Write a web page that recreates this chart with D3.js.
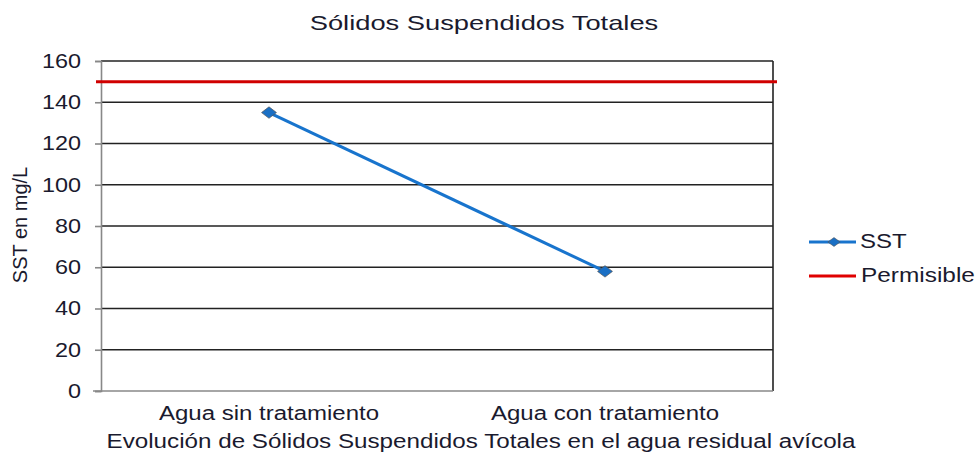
<!DOCTYPE html>
<html>
<head>
<meta charset="utf-8">
<script src="https://cdn.jsdelivr.net/npm/d3@7"></script>
<style>
  body { margin: 0; background: #fff; }
  svg { font-family: Arial, "Liberation Sans", sans-serif; }
</style>
</head>
<body>
<svg width="979" height="453"></svg>
<script>
const categories = ['Agua sin tratamiento', 'Agua con tratamiento'];
const sstValues = [135, 58];
const permisible = 150;
const yTicks = [0, 20, 40, 60, 80, 100, 120, 140, 160];

const margin = { left: 101, right: 206, top: 61, bottom: 62 };
const w = 979;
const h = 453;
const textColor = '#1a1a2e';

const svg = d3.select('svg');

// the original picture is stretched sideways, so widen the text to match
function stretch(sel, factor) {
  sel.each(function () {
    const len = this.getComputedTextLength();
    d3.select(this)
      .attr('textLength', len * factor)
      .attr('lengthAdjust', 'spacingAndGlyphs');
  });
}

const xScale = d3.scaleBand()
  .domain(categories)
  .range([margin.left, w - margin.right]);

const yScale = d3.scaleLinear()
  .domain([0, 160])
  .range([h - margin.bottom, margin.top]);

// grid lines
svg.append('g')
  .selectAll('line')
  .data(yTicks.slice(1))
  .enter()
  .append('line')
  .attr('x1', margin.left)
  .attr('x2', w - margin.right)
  .attr('y1', d => yScale(d))
  .attr('y2', d => yScale(d))
  .attr('stroke', '#222')
  .attr('stroke-width', 1.6);

// right border
svg.append('line')
  .attr('x1', w - margin.right)
  .attr('x2', w - margin.right)
  .attr('y1', margin.top)
  .attr('y2', h - margin.bottom)
  .attr('stroke', '#222')
  .attr('stroke-width', 1.6);

// y axis
const yAxis = d3.axisLeft(yScale)
  .tickValues(yTicks)
  .tickSize(6)
  .tickPadding(14);
const yG = svg.append('g')
  .attr('transform', `translate(${margin.left}, 0)`)
  .call(yAxis);
yG.select('.domain').attr('stroke', '#888').attr('stroke-width', 1.6);
yG.selectAll('.tick line').attr('stroke', '#888').attr('stroke-width', 1.6);
yG.selectAll('.tick text')
  .attr('fill', textColor)
  .style('font-size', '20px')
  .call(stretch, 1.17);

// x axis
const xAxis = d3.axisBottom(xScale).tickSize(0).tickPadding(15);
const xG = svg.append('g')
  .attr('transform', `translate(0, ${h - margin.bottom})`)
  .call(xAxis);
xG.select('.domain').remove();
xG.selectAll('.tick text')
  .attr('fill', textColor)
  .style('font-size', '20px')
  .call(stretch, 1.2);
svg.append('line')
  .attr('x1', margin.left - 8)
  .attr('x2', w - margin.right)
  .attr('y1', yScale(0))
  .attr('y2', yScale(0))
  .attr('stroke', '#888')
  .attr('stroke-width', 1.6);

// permisible line
svg.append('line')
  .attr('x1', margin.left - 5)
  .attr('x2', w - margin.right + 4)
  .attr('y1', yScale(permisible))
  .attr('y2', yScale(permisible))
  .attr('stroke', '#d00000')
  .attr('stroke-width', 3);

// SST line
const cx = (d, i) => xScale(categories[i]) + xScale.bandwidth() / 2;
const line = d3.line()
  .x(cx)
  .y(d => yScale(d));

svg.append('path')
  .datum(sstValues)
  .attr('d', line)
  .attr('fill', 'none')
  .attr('stroke', '#1874cd')
  .attr('stroke-width', 3);

const diamond = d3.symbol().type(d3.symbolDiamond2).size(84);
svg.append('g')
  .selectAll('path')
  .data(sstValues)
  .enter()
  .append('path')
  .attr('d', diamond)
  .attr('transform', (d, i) => `translate(${cx(d, i)}, ${yScale(d)}) scale(1.3, 1)`)
  .attr('fill', '#1a6fc4')
  .attr('stroke', '#555')
  .attr('stroke-width', 0.6);

// titles
svg.append('text')
  .attr('x', 484)
  .attr('y', 30)
  .attr('text-anchor', 'middle')
  .attr('fill', textColor)
  .style('font-size', '21px')
  .text('Sólidos Suspendidos Totales')
  .call(stretch, 1.3);

svg.append('text')
  .attr('transform', 'translate(27, 225) rotate(-90)')
  .attr('text-anchor', 'middle')
  .attr('fill', textColor)
  .style('font-size', '20px')
  .text('SST en mg/L');

svg.append('text')
  .attr('x', 481)
  .attr('y', 448)
  .attr('text-anchor', 'middle')
  .attr('fill', textColor)
  .style('font-size', '20px')
  .text('Evolución de Sólidos Suspendidos Totales en el agua residual avícola')
  .call(stretch, 1.21);

// legend
const legend = svg.append('g');
legend.append('line')
  .attr('x1', 809).attr('x2', 856)
  .attr('y1', 242).attr('y2', 242)
  .attr('stroke', '#1874cd').attr('stroke-width', 3);
legend.append('path')
  .attr('d', d3.symbol().type(d3.symbolDiamond2).size(50))
  .attr('transform', 'translate(834, 242) scale(1.4, 1)')
  .attr('fill', '#1a6fc4')
  .attr('stroke', '#555')
  .attr('stroke-width', 0.5);
legend.append('text')
  .attr('x', 860).attr('y', 248)
  .attr('fill', textColor)
  .style('font-size', '20px')
  .text('SST')
  .call(stretch, 1.2);
legend.append('line')
  .attr('x1', 809).attr('x2', 856)
  .attr('y1', 276).attr('y2', 276)
  .attr('stroke', '#e00000').attr('stroke-width', 3);
legend.append('text')
  .attr('x', 861).attr('y', 282)
  .attr('fill', textColor)
  .style('font-size', '20px')
  .text('Permisible')
  .call(stretch, 1.22);
</script>
</body>
</html>
